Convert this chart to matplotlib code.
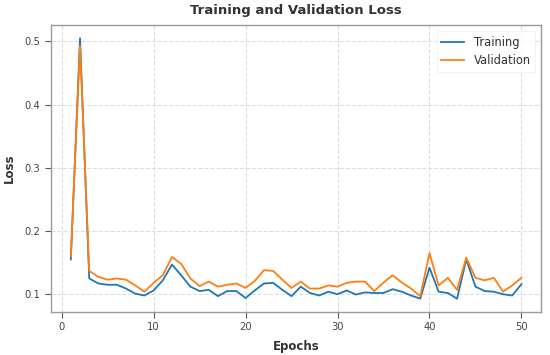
import matplotlib
matplotlib.use("Agg")
import matplotlib.pyplot as plt

# Loss values
epochs = list(range(1, 51))
train_loss = [0.155, 0.505, 0.125, 0.117, 0.115, 0.115, 0.109, 0.101, 0.098, 0.106,
              0.122, 0.147, 0.130, 0.112, 0.105, 0.107, 0.097, 0.105, 0.105, 0.094,
              0.106, 0.117, 0.118, 0.107, 0.097, 0.112, 0.102, 0.098, 0.104, 0.100,
              0.106, 0.0995, 0.103, 0.102, 0.102, 0.108, 0.104, 0.098, 0.093, 0.142,
              0.104, 0.102, 0.093, 0.155, 0.112, 0.105, 0.104, 0.100, 0.098, 0.116]
val_loss = [0.160, 0.493, 0.137, 0.1275, 0.123, 0.125, 0.123, 0.114, 0.104, 0.118,
            0.130, 0.159, 0.148, 0.125, 0.113, 0.120, 0.112, 0.115, 0.117, 0.110,
            0.121, 0.138, 0.137, 0.123, 0.110, 0.120, 0.109, 0.109, 0.114, 0.112,
            0.118, 0.120, 0.120, 0.105, 0.1185, 0.130, 0.1185, 0.109, 0.097, 0.165,
            0.114, 0.126, 0.107, 0.158, 0.126, 0.122, 0.126, 0.104, 0.114, 0.126]

fig, ax = plt.subplots(figsize=(5.5, 3.55), dpi=100)
fig.subplots_adjust(left=0.092, right=0.984, top=0.929, bottom=0.122)

ax.plot(epochs, train_loss, color="#1f77b4", lw=1.3, label="Training")
ax.plot(epochs, val_loss, color="#ff7f0e", lw=1.3, label="Validation")

ax.set_xlim(-1.2, 52.15)
ax.set_title("Training and Validation Loss", fontsize=9.5, fontweight="bold",
             color="#333333", pad=8)
ax.set_xlabel("Epochs", fontsize=8.5, fontweight="bold", color="#333333", labelpad=6)
ax.set_ylabel("Loss", fontsize=8.5, fontweight="bold", color="#333333", labelpad=6)

ax.grid(True, linestyle="--", color="#dddddd", linewidth=0.8)
for s in ax.spines.values():
    s.set_color("#999999")
    s.set_linewidth(1.0)
ax.tick_params(labelsize=7.2, colors="#555555", length=4, width=0.8)
for lbl in ax.get_xticklabels() + ax.get_yticklabels():
    lbl.set_color("#444444")

leg = ax.legend(fontsize=8.3, loc="upper right", frameon=True, fancybox=False)
leg.get_frame().set_edgecolor("#f0f0f0")
leg.get_frame().set_linewidth(0.6)
for t in leg.get_texts():
    t.set_color("#333333")

fig.savefig("out.png", dpi=100)
